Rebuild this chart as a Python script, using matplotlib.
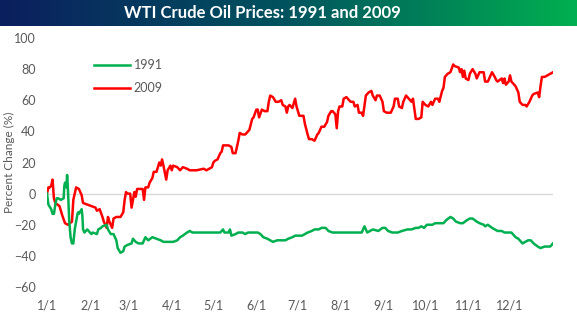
import numpy as np
import matplotlib
matplotlib.use("Agg")
import matplotlib.pyplot as plt
from matplotlib.colors import LinearSegmentedColormap

plt.rcParams['font.family'] = ['Lato', 'DejaVu Sans']

# day of year / percent change since 1/1
days_2009 = [0, 1, 2, 3, 4, 5, 6, 9, 11, 13, 15, 18, 19, 21, 23, 25, 26, 29, 32, 35, 36, 38, 40, 41, 43, 44,
             45, 47, 48, 50, 52, 53, 55, 56, 57, 58, 60, 61, 62, 63, 64, 65, 67, 69, 70, 71, 73, 74, 76, 77,
             79, 81, 82, 83, 84, 86, 87, 89, 90, 91, 94, 96, 98, 101, 103, 108, 113, 115, 119, 120, 121, 123,
             125, 126, 127, 130, 131, 133, 134, 136, 138, 139, 141, 143, 144, 146, 148, 149, 151, 152, 153,
             155, 157, 159, 160, 161, 163, 165, 167, 169, 170, 172, 173, 174, 175, 177, 179, 180, 182, 185,
             186, 188, 189, 191, 193, 195, 196, 198, 200, 202, 203, 205, 206, 208, 209, 210, 211, 213, 214,
             216, 219, 221, 222, 224, 225, 227, 228, 230, 232, 234, 235, 237, 238, 240, 242, 243, 245, 248,
             250, 251, 253, 254, 256, 257, 259, 261, 263, 264, 266, 268, 270, 271, 273, 275, 277, 278, 280,
             282, 283, 285, 286, 287, 289, 291, 293, 294, 297, 298, 299, 300, 301, 302, 304, 305, 307, 309,
             310, 312, 315, 316, 318, 320, 321, 323, 324, 325, 328, 329, 330, 331, 333, 334, 335, 337, 338,
             340, 341, 343, 345, 346, 348, 350, 351, 354, 355, 356, 357, 359, 361, 363, 365]
pct_2009 = [0, 4, 4, 5, 9, -3, -6, -8, -14, -19, -20, -18, -4, 4, 3, -1, -6, -7, -8, -9, -11, -10, -15, -18,
            -22, -15, -18, -22, -16, -15, -15, -15, -12, -4, 1, 0, 0, -9, -4, 1, -2, 3, 3, 3, -4, 4, 4, 7, 10,
            14, 14, 20, 18, 22, 18, 9, 15, 18, 15, 18, 17, 15, 17, 16, 15, 15, 16, 15, 17, 20, 21, 22, 26, 27,
            31, 31, 31, 30, 26, 26, 34, 39, 38, 38, 39, 41, 48, 49, 54, 54, 49, 54, 53, 53, 59, 63, 62, 59, 59,
            60, 57, 56, 52, 56, 57, 55, 61, 56, 50, 50, 45, 38, 35, 35, 34, 38, 39, 43, 43, 46, 50, 53, 53, 51,
            42, 53, 56, 56, 61, 62, 59, 59, 56, 57, 52, 52, 50, 63, 65, 66, 63, 60, 63, 63, 59, 53, 52, 52, 56,
            61, 61, 56, 55, 59, 63, 61, 59, 61, 48, 48, 49, 59, 57, 56, 59, 57, 61, 61, 59, 66, 68, 75, 77, 78,
            83, 82, 81, 78, 80, 75, 79, 74, 73, 77, 80, 77, 74, 78, 78, 72, 72, 76, 78, 75, 73, 72, 74, 71, 74,
            70, 72, 76, 72, 70, 69, 65, 59, 57, 57, 56, 59, 63, 64, 65, 62, 69, 75, 75, 76, 77, 78]

days_1991 = [0, 1, 3, 4, 5, 6, 7, 8, 10, 12, 12.5, 13, 14, 14.5, 15, 16, 17, 18, 19, 20, 22, 22.5, 23, 25,
             25.5, 26, 27, 29, 30, 32, 33, 36, 37, 39, 40, 43, 44, 46, 48, 50, 51, 53, 55, 56, 58, 61, 62, 64,
             66, 69, 71, 73, 76, 79, 82, 84, 87, 89, 91, 94, 96, 98, 101, 103, 105, 108, 110, 113, 115, 118,
             120, 123, 125, 127, 128, 131, 132, 133, 136, 138, 141, 143, 145, 149, 152, 154, 156, 159, 161,
             163, 166, 168, 172, 174, 177, 179, 181, 184, 186, 188, 191, 193, 196, 198, 201, 203, 206, 209,
             213, 216, 220, 224, 227, 229, 231, 233, 235, 239, 242, 244, 246, 249, 251, 253, 256, 260, 263,
             266, 268, 270, 272, 274, 278, 280, 283, 286, 288, 291, 293, 295, 298, 300, 303, 305, 307, 310,
             312, 315, 316, 318, 321, 323, 325, 328, 330, 333, 335, 338, 340, 343, 345, 347, 349, 351, 354,
             356, 359, 363, 365]
pct_1991 = [0, -7, -10, -13, -13, -7, -3, -3, -4, -3, 5, 7, 4, 12, 5, -17, -28, -32, -32, -23, -13, -12, -13,
            -10, -14, -23, -25, -23, -24, -26, -25, -26, -23, -22, -21, -20, -23, -26, -26, -30, -35, -38, -37,
            -34, -33, -32, -29, -31, -32, -32, -28, -30, -28, -29, -30, -31, -31, -31, -31, -30, -28, -27, -25,
            -24, -25, -25, -25, -25, -25, -25, -25, -25, -25, -23, -25, -25, -23, -27, -26, -25, -25, -26, -25,
            -25, -25, -26, -28, -29, -30, -31, -30, -30, -30, -29, -28, -27, -27, -27, -26, -25, -24, -23, -23,
            -22, -22, -24, -25, -25, -25, -25, -25, -25, -25, -21, -25, -24, -23, -24, -22, -22, -24, -25, -25,
            -25, -24, -23, -23, -22, -22, -21, -22, -20, -20, -19, -19, -19, -17, -15, -16, -18, -19, -19, -17,
            -16, -16, -18, -19, -20, -21, -20, -22, -23, -24, -24, -25, -25, -25, -28, -29, -32, -31, -30, -30,
            -32, -34, -35, -34, -34, -32]

month_days = [0, 31, 59, 90, 120, 151, 181, 212, 243, 273, 304, 334]
month_labels = ["1/1", "2/1", "3/1", "4/1", "5/1", "6/1", "7/1", "8/1", "9/1", "10/1", "11/1", "12/1"]
y_ticks = [-60, -40, -20, 0, 20, 40, 60, 80, 100]

fig = plt.figure(figsize=(5.77, 3.21), dpi=100)

# title banner with gradient
banner = fig.add_axes([0, 1 - 26 / 321, 1, 26 / 321])
cmap = LinearSegmentedColormap.from_list("banner", ["#0b1f5e", "#00545f", "#00b050"])
banner.imshow(np.linspace(0, 1, 256).reshape(1, -1), aspect="auto", cmap=cmap, extent=[0, 1, 0, 1])
banner.set_axis_off()
banner.text(0.455, 0.5, "WTI Crude Oil Prices: 1991 and 2009", color="white", fontsize=12,
            fontweight="bold", ha="center", va="center", transform=banner.transAxes)

ax = fig.add_axes([47 / 577, 1 - 287 / 321, 506 / 577, 249 / 321])
ax.axhline(0, color="#d9d9d9", lw=1, zorder=1)
ax.plot(days_1991, pct_1991, color="#00b050", lw=1.8, label="1991", zorder=3)
ax.plot(days_2009, pct_2009, color="#ff0000", lw=1.8, label="2009", zorder=2)

ax.set_xlim(0, 365)
ax.set_ylim(-60, 100)
ax.set_xticks(month_days)
ax.set_xticklabels(month_labels)
ax.set_yticks(y_ticks)
ax.tick_params(length=0, colors="#595959", labelsize=9)
ax.tick_params(axis="x", pad=9)
ax.tick_params(axis="y", pad=8)
for s in ax.spines.values():
    s.set_visible(False)
ax.set_ylabel("Percent Change (%)", color="#595959", fontsize=8.5)
ax.yaxis.set_label_coords(-0.064, 0.5)

leg = ax.legend(loc="upper left", bbox_to_anchor=(0.07, 0.96), frameon=False, fontsize=9,
                handlelength=2.9, labelspacing=0.9, handletextpad=0.3)
for t in leg.get_texts():
    t.set_color("#595959")

fig.savefig("out.png", dpi=100)
